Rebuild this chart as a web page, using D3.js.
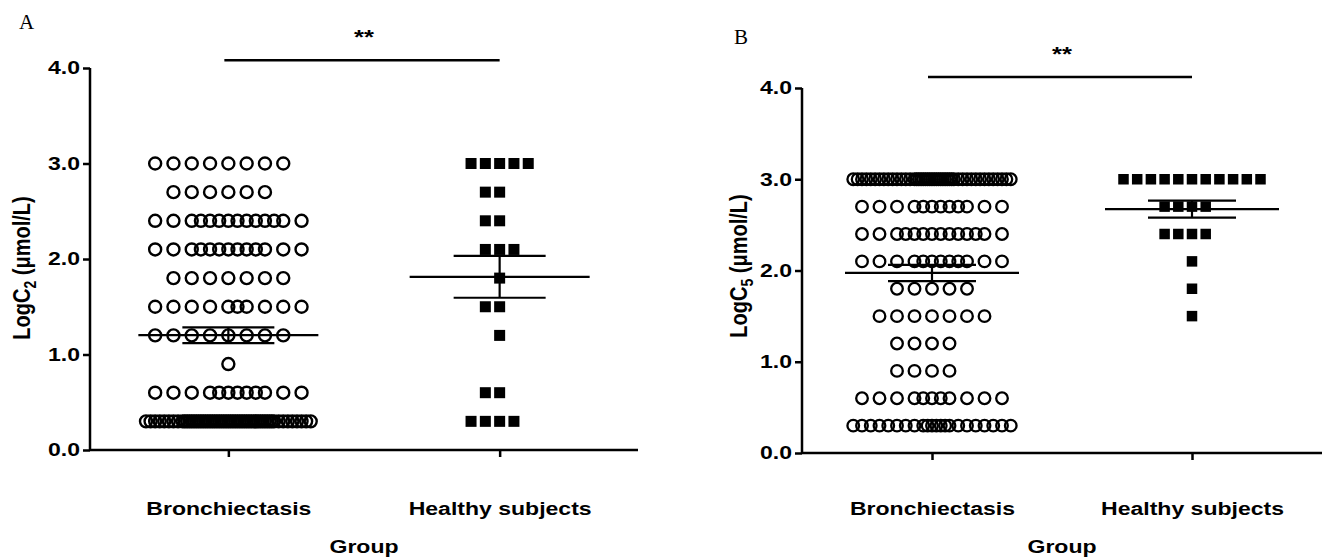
<!DOCTYPE html>
<html><head><meta charset="utf-8">
<script src="https://cdn.jsdelivr.net/npm/d3@7"></script>
<style>body{margin:0;background:#fff} svg{display:block}</style>
</head><body>
<svg id="c" width="1323" height="559"></svg>
<script>
// ---------- data ----------
const groups = ["Bronchiectasis", "Healthy subjects"];
const yTicks = [0, 1, 2, 3, 4];
const levels = [3.0, 2.7, 2.4, 2.1, 1.8, 1.5, 1.2, 0.9, 0.6, 0.3];
// number of subjects at each level (same order as `levels`)
const c2Bronch  = [8, 6, 14, 13, 7, 10, 8, 1, 12, 57];
const c2Healthy = [5, 2, 2, 3, 1, 2, 1, 0, 2, 4];
const c5Bronch  = [46, 12, 14, 12, 5, 7, 4, 4, 11, 22];
const c5Healthy = [11, 4, 4, 1, 1, 1, 0, 0, 0, 0];
const panelLetters = ["A", "B"];
const subscripts = ["2", "5"];
const sigText = "**";

function expand(counts) {
  const v = [];
  levels.forEach((l, i) => { for (let j = 0; j < counts[i]; j++) v.push(l); });
  return v;
}

// ---------- layout / style ----------
const FONT = "Arial, 'Liberation Sans', sans-serif";
const panels = [
  { letter: panelLetters[0], sub: subscripts[0], data: [expand(c2Bronch), expand(c2Healthy)],
    xr: [90, 638], pad: 0.51, yr: [450, 68], step: [18.3, 14.3], maxK: [4, 5], r: 6, sw: 2.4, sq: 11,
    meanHalf: 90, semHalf: 46, sigVal: 4.08, sigTextY: 44, letterPos: [19, 29],
    titlePos: [30, 268], labelY: 515, groupY: 553, lw: 2.5 },
  { letter: panelLetters[1], sub: subscripts[1], data: [expand(c5Bronch), expand(c5Healthy)],
    xr: [802, 1322], pad: 0.5, yr: [453, 88], step: [17.5, 13.7], maxK: [4, 5], r: 5.8, sw: 2.3, sq: 10.5,
    meanHalf: 87, semHalf: 44, sigVal: 4.12, sigTextY: 61, letterPos: [734, 44],
    titlePos: [747, 266], labelY: 515, groupY: 553, lw: 2.5 }
];
const SX = 1.28; // horizontal stretch of the original figure's text

function slotOrder(maxK) {
  const o = [0];
  for (let k = 1; k <= maxK; k++) o.push(-k, k);
  for (let m = 0.5; m <= maxK + 0.5; m += 1) o.push(m, -m);
  for (let m = 0.25; m <= maxK + 0.25; m += 0.5) o.push(m, -m);
  for (let m = 0.125; m <= maxK + 0.375; m += 0.25) o.push(m, -m);
  for (let m = 0.0625; m <= maxK + 0.4375; m += 0.125) o.push(m, -m);
  return o;
}

const svg = d3.select("#c");

function sText(g, x, y, str, anchor, size, sx) {
  return g.append("text")
    .attr("transform", `translate(${x},${y}) scale(${sx},1)`)
    .attr("text-anchor", anchor)
    .attr("font-family", FONT).attr("font-weight", "bold")
    .attr("font-size", size).attr("fill", "#000").text(str);
}

panels.forEach(p => {
  const g = svg.append("g");
  const x = d3.scalePoint().domain(groups).range(p.xr).padding(p.pad);
  const y = d3.scaleLinear().domain([0, 4]).range(p.yr);

  // axes
  const ya = g.append("g").attr("transform", `translate(${p.xr[0]},0)`)
    .call(d3.axisLeft(y).tickValues(yTicks).tickFormat(d3.format(".1f")).tickSize(7).tickSizeOuter(0));
  const xa = g.append("g").attr("transform", `translate(0,${p.yr[0]})`)
    .call(d3.axisBottom(x).tickSize(7).tickSizeOuter(0));
  [ya, xa].forEach(a => {
    a.select(".domain").attr("stroke", "#000").attr("stroke-width", p.lw);
    a.selectAll(".tick line").attr("stroke", "#000").attr("stroke-width", p.lw);
  });
  ya.selectAll(".tick text")
    .attr("x", 0).attr("transform", `translate(-10,0) scale(${SX},1)`)
    .attr("font-family", FONT).attr("font-weight", "bold").attr("font-size", 18).attr("fill", "#000");
  xa.selectAll(".tick text")
    .attr("y", 0).attr("dy", null)
    .attr("transform", `translate(0,${p.labelY - p.yr[0]}) scale(${SX},1)`)
    .attr("font-family", FONT).attr("font-weight", "bold").attr("font-size", 18).attr("fill", "#000");
  ya.select(".domain").attr("d", `M0,${p.yr[0]}V${p.yr[1]}`);
  xa.select(".domain").attr("d", `M${p.xr[0]},0H${p.xr[1]}`);

  // x title
  sText(g, (x(groups[0]) + x(groups[1])) / 2, p.groupY, "Group", "middle", 18, SX);

  // y title
  const t = g.append("text")
    .attr("transform", `translate(${p.titlePos[0]},${p.titlePos[1]}) scale(1.15,1) rotate(-90)`)
    .attr("text-anchor", "middle")
    .attr("font-family", FONT).attr("font-weight", "bold").attr("font-size", 20).attr("fill", "#000");
  t.append("tspan").text("LogC");
  t.append("tspan").attr("font-size", 14).attr("dy", 5).text(p.sub);
  t.append("tspan").attr("dy", -5).text(" (\u03bcmol/L)");

  // panel letter
  g.append("text").attr("x", p.letterPos[0]).attr("y", p.letterPos[1])
    .attr("font-family", "'Times New Roman', 'Liberation Serif', serif").attr("font-size", 21)
    .attr("fill", "#000").text(p.letter);

  // significance bar
  g.append("line").attr("x1", x(groups[0]) - 4).attr("x2", x(groups[1]))
    .attr("y1", y(p.sigVal)).attr("y2", y(p.sigVal))
    .attr("stroke", "#000").attr("stroke-width", p.lw);
  sText(g, (x(groups[0]) + x(groups[1])) / 2, p.sigTextY, sigText, "middle", 20, SX);

  // points
  p.data.forEach((vals, gi) => {
    const cx = x(groups[gi]);
    const order = slotOrder(p.maxK[gi]);
    const rows = d3.group(vals, v => v);
    const pts = [];
    rows.forEach((arr, v) => arr.forEach((d, i) => pts.push({ v: d, k: order[i] })));
    if (gi === 0) {
      g.append("g").selectAll("circle").data(pts).join("circle")
        .attr("cx", d => cx + d.k * p.step[gi]).attr("cy", d => y(d.v))
        .attr("r", p.r).attr("fill", "none").attr("stroke", "#000").attr("stroke-width", p.sw);
    } else {
      g.append("g").selectAll("rect").data(pts).join("rect")
        .attr("x", d => cx + d.k * p.step[gi] - p.sq / 2).attr("y", d => y(d.v) - p.sq / 2)
        .attr("width", p.sq).attr("height", p.sq).attr("fill", "#000");
    }
    // mean and SEM
    const m = d3.mean(vals);
    const sem = d3.deviation(vals) / Math.sqrt(vals.length);
    const lg = g.append("g").attr("stroke", "#000").attr("stroke-width", 2.2);
    lg.append("line").attr("x1", cx - p.meanHalf).attr("x2", cx + p.meanHalf).attr("y1", y(m)).attr("y2", y(m));
    lg.append("line").attr("x1", cx).attr("x2", cx).attr("y1", y(m - sem)).attr("y2", y(m + sem));
    [m - sem, m + sem].forEach(v =>
      lg.append("line").attr("x1", cx - p.semHalf).attr("x2", cx + p.semHalf).attr("y1", y(v)).attr("y2", y(v)));
  });
});
</script>
</body></html>
